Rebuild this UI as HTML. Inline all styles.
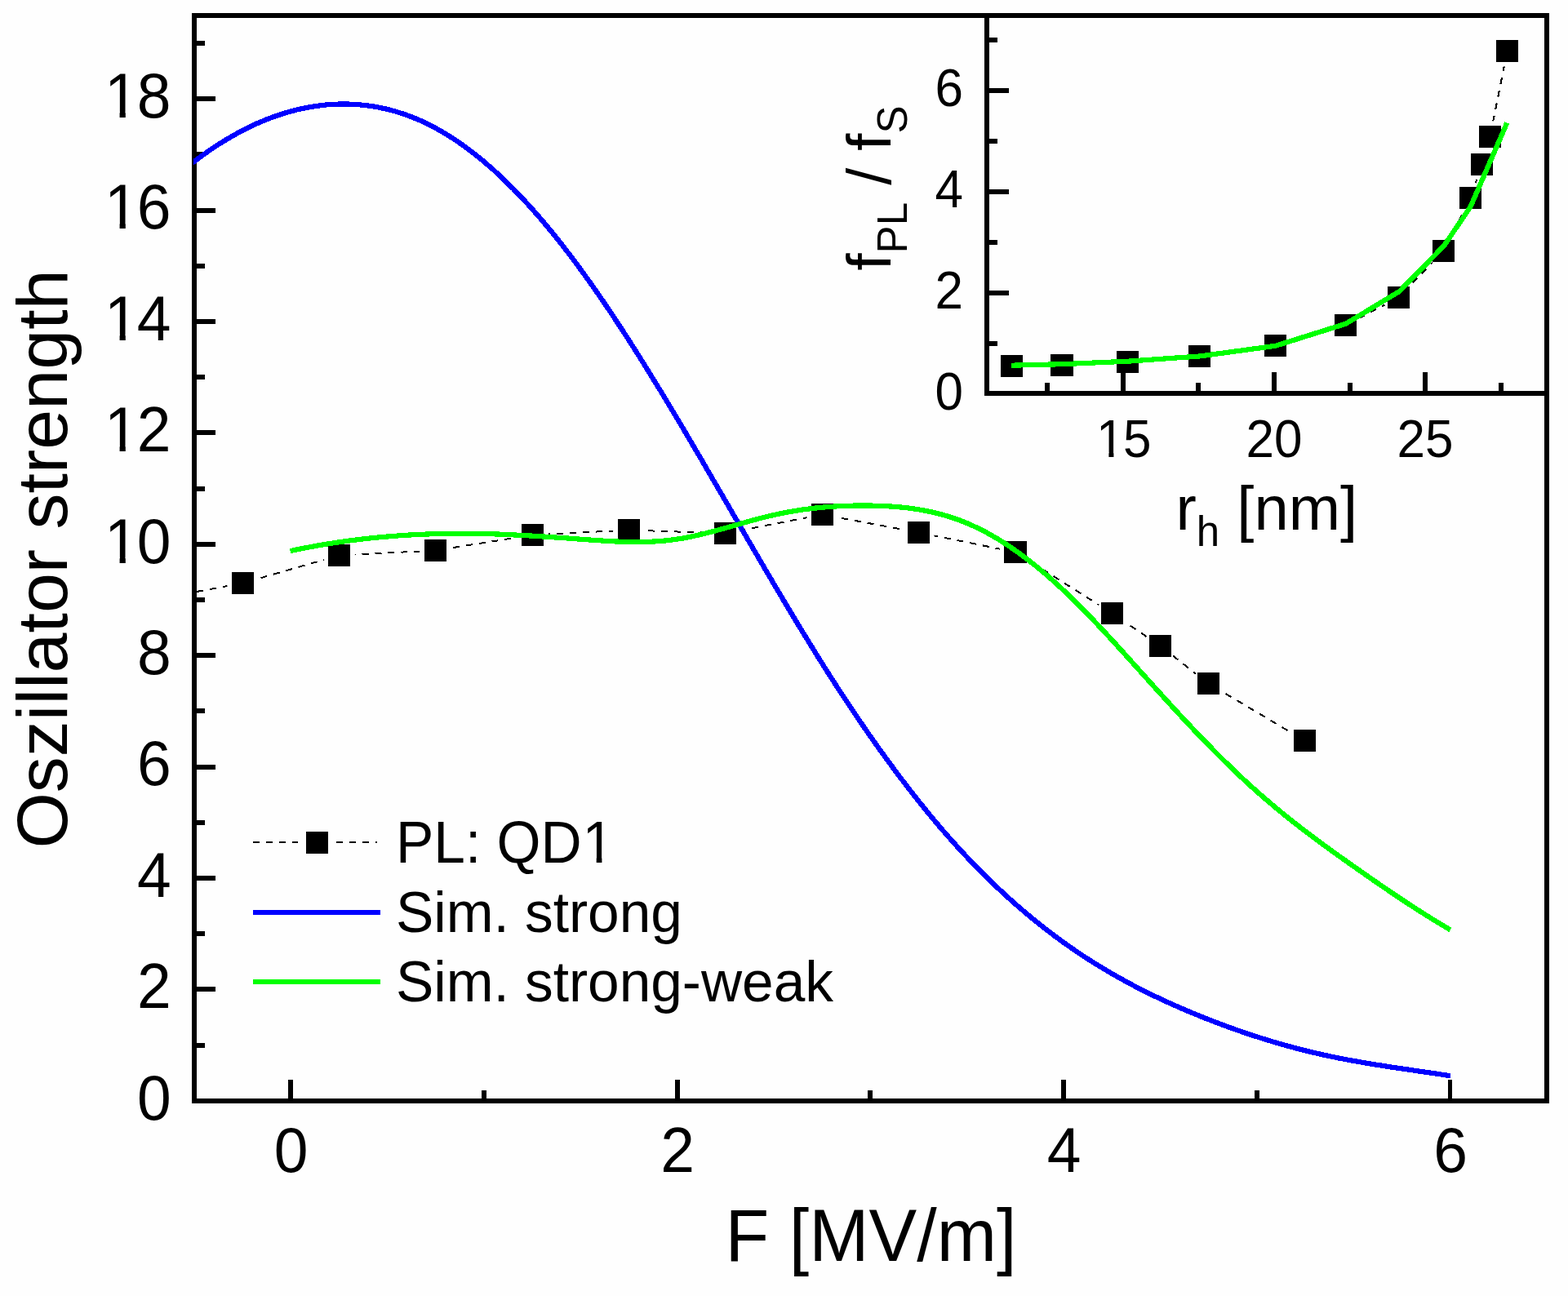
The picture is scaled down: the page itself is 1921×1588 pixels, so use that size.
<!DOCTYPE html>
<html lang="en"><head><meta charset="utf-8"><title>Oszillator strength vs F</title>
<style>html,body{margin:0;padding:0;background:#fefefe;overflow:hidden}svg{display:block}text{font-family:"Liberation Sans",Arial,sans-serif;fill:#000}</style>
</head><body>
<svg width="1921" height="1588" viewBox="0 0 1921 1588">
<rect x="0" y="0" width="1921" height="1588" fill="#fefefe"/>
<defs><clipPath id="cm"><rect x="237" y="19" width="1658" height="1330"/></clipPath><clipPath id="k75"><rect x="-83.5" y="-75" width="43.7" height="68.4"/><rect x="-62.9" y="-7.1" width="7.2" height="8.6"/><rect x="-41.7" y="-75" width="46.7" height="97.5"/></clipPath><clipPath id="k62"><rect x="-34.9" y="-62" width="36.5" height="56.5"/><rect x="-17.6" y="-6" width="6" height="7.5"/><rect x="0" y="-62" width="39.5" height="80.6"/></clipPath><clipPath id="k69"><rect x="-5" y="-80" width="232.5" height="110"/><rect x="227.5" y="-80" width="50" height="73.9"/><rect x="245.7" y="-6.6" width="6.7" height="8.1"/></clipPath></defs>
<g clip-path="url(#cm)">
<path d="M178.4 736.6 L297.5 714.5 L415.5 680.5 L533.5 674.5 L652.5 655.5 L770.5 649.5 L888.5 653.5 L1007.5 630.5 L1125.5 652.5 L1244 676.5 L1362.5 751.5 L1421.5 791.5 L1480.5 837.5 L1598.5 907.5" stroke="#000" stroke-width="2" stroke-dasharray="8 8" fill="none" shape-rendering="crispEdges"/>
<path d="M1239.5 448.5 L1301 447.5 L1381.5 443.5 L1469.5 436.5 L1562.5 423.5 L1648.5 398.5 L1713.5 364.5 L1768.5 307.5 L1801.5 242.5 L1815.5 201.5 L1825.5 167.5 L1846.5 62.5" stroke="#000" stroke-width="2" stroke-dasharray="8 8" fill="none" shape-rendering="crispEdges"/>
<g fill="#fefefe">
<circle cx="297.5" cy="714.5" r="19.5"/>
<circle cx="415.5" cy="680.5" r="19.5"/>
<circle cx="533.5" cy="674.5" r="19.5"/>
<circle cx="652.5" cy="655.5" r="19.5"/>
<circle cx="770.5" cy="649.5" r="19.5"/>
<circle cx="888.5" cy="653.5" r="19.5"/>
<circle cx="1007.5" cy="630.5" r="19.5"/>
<circle cx="1125.5" cy="652.5" r="19.5"/>
<circle cx="1244" cy="676.5" r="19.5"/>
<circle cx="1362.5" cy="751.5" r="19.5"/>
<circle cx="1421.5" cy="791.5" r="19.5"/>
<circle cx="1480.5" cy="837.5" r="19.5"/>
<circle cx="1598.5" cy="907.5" r="19.5"/>
<circle cx="1239.5" cy="448.5" r="19.5"/>
<circle cx="1301" cy="447.5" r="19.5"/>
<circle cx="1381.5" cy="443.5" r="19.5"/>
<circle cx="1469.5" cy="436.5" r="19.5"/>
<circle cx="1562.5" cy="423.5" r="19.5"/>
<circle cx="1648.5" cy="398.5" r="19.5"/>
<circle cx="1713.5" cy="364.5" r="19.5"/>
<circle cx="1768.5" cy="307.5" r="19.5"/>
<circle cx="1801.5" cy="242.5" r="19.5"/>
<circle cx="1815.5" cy="201.5" r="19.5"/>
<circle cx="1825.5" cy="167.5" r="19.5"/>
<circle cx="1846.5" cy="62.5" r="19.5"/>
</g></g>
<g fill="#000" shape-rendering="crispEdges">
<rect x="235" y="16" width="1663" height="6"/>
<rect x="235" y="1346" width="1663" height="6"/>
<rect x="235" y="16" width="6" height="1336"/>
<rect x="1892" y="16" width="6" height="1336"/>
<rect x="241" y="1278" width="10" height="6"/>
<rect x="241" y="1209" width="23" height="6"/>
<rect x="241" y="1141" width="10" height="6"/>
<rect x="241" y="1073" width="23" height="6"/>
<rect x="241" y="1005" width="10" height="6"/>
<rect x="241" y="937" width="23" height="6"/>
<rect x="241" y="868" width="10" height="6"/>
<rect x="241" y="800" width="23" height="6"/>
<rect x="241" y="732" width="10" height="6"/>
<rect x="241" y="664" width="23" height="6"/>
<rect x="241" y="596" width="10" height="6"/>
<rect x="241" y="527" width="23" height="6"/>
<rect x="241" y="459" width="10" height="6"/>
<rect x="241" y="391" width="23" height="6"/>
<rect x="241" y="323" width="10" height="6"/>
<rect x="241" y="255" width="23" height="6"/>
<rect x="241" y="186" width="10" height="6"/>
<rect x="241" y="118" width="23" height="6"/>
<rect x="241" y="50" width="10" height="6"/>
<rect x="353" y="1323" width="6" height="23"/>
<rect x="590" y="1336" width="6" height="10"/>
<rect x="827" y="1323" width="6" height="23"/>
<rect x="1063" y="1336" width="6" height="10"/>
<rect x="1300" y="1323" width="6" height="23"/>
<rect x="1537" y="1336" width="6" height="10"/>
<rect x="1774" y="1323" width="5" height="23"/>
<rect x="1206" y="16" width="6" height="469"/>
<rect x="1206" y="479" width="689" height="6"/>
<rect x="1212" y="418" width="10" height="6"/>
<rect x="1212" y="356" width="24" height="6"/>
<rect x="1212" y="294" width="10" height="6"/>
<rect x="1212" y="232" width="24" height="6"/>
<rect x="1212" y="170" width="10" height="6"/>
<rect x="1212" y="108" width="24" height="6"/>
<rect x="1212" y="46" width="10" height="6"/>
<rect x="1280" y="469" width="6" height="10"/>
<rect x="1373" y="456" width="6" height="23"/>
<rect x="1465" y="469" width="6" height="10"/>
<rect x="1558" y="456" width="6" height="23"/>
<rect x="1651" y="469" width="6" height="10"/>
<rect x="1743" y="456" width="6" height="23"/>
<rect x="1836" y="469" width="6" height="10"/>
</g>
<text font-size="75" text-anchor="end" transform="translate(209.7 1371.5) scale(1 1.04)">0</text>
<text font-size="75" text-anchor="end" transform="translate(209.7 1235.1) scale(1 1.04)">2</text>
<text font-size="75" text-anchor="end" transform="translate(209.7 1098.7) scale(1 1.04)">4</text>
<text font-size="75" text-anchor="end" transform="translate(209.7 962.3) scale(1 1.04)">6</text>
<text font-size="75" text-anchor="end" transform="translate(209.7 825.9) scale(1 1.04)">8</text>
<text font-size="75" text-anchor="start" transform="translate(209.5 689.5) scale(1 1.04)" x="-81.5 -41.7" clip-path="url(#k75)">10</text>
<text font-size="75" text-anchor="start" transform="translate(209.5 553.1) scale(1 1.04)" x="-81.5 -41.7" clip-path="url(#k75)">12</text>
<text font-size="75" text-anchor="start" transform="translate(209.5 416.7) scale(1 1.04)" x="-81.5 -41.7" clip-path="url(#k75)">14</text>
<text font-size="75" text-anchor="start" transform="translate(209.5 280.3) scale(1 1.04)" x="-81.5 -41.7" clip-path="url(#k75)">16</text>
<text font-size="75" text-anchor="start" transform="translate(209.5 143.9) scale(1 1.04)" x="-81.5 -41.7" clip-path="url(#k75)">18</text>
<text font-size="75" text-anchor="middle" transform="translate(356.7 1436) scale(1 1.04)">0</text>
<text font-size="75" text-anchor="middle" transform="translate(830.2 1436) scale(1 1.04)">2</text>
<text font-size="75" text-anchor="middle" transform="translate(1303.7 1436) scale(1 1.04)">4</text>
<text font-size="75" text-anchor="middle" transform="translate(1777.2 1436) scale(1 1.04)">6</text>
<text font-size="88" text-anchor="middle" transform="translate(1067 1545) scale(1 1.025)">F [MV/m]</text>
<text font-size="88" text-anchor="middle" transform="translate(82 685) rotate(-90)">Oszillator strength</text>
<text font-size="62" text-anchor="end" transform="translate(1180 502) scale(1 1.04)">0</text>
<text font-size="62" text-anchor="end" transform="translate(1180 378) scale(1 1.04)">2</text>
<text font-size="62" text-anchor="end" transform="translate(1180 254) scale(1 1.04)">4</text>
<text font-size="62" text-anchor="end" transform="translate(1180 130) scale(1 1.04)">6</text>
<text font-size="62" text-anchor="start" transform="translate(1376 560) scale(1 1.04)" x="-32.9 0" clip-path="url(#k62)">15</text>
<text font-size="62" text-anchor="middle" transform="translate(1561 560) scale(1 1.04)">20</text>
<text font-size="62" text-anchor="middle" transform="translate(1746 560) scale(1 1.04)">25</text>
<text font-size="76" x="1440.5" y="648.5">r<tspan font-size="51" dy="20.5">h</tspan><tspan dy="-20.5"> [nm]</tspan></text>
<text font-size="76" transform="translate(1091 331.5) rotate(-90)">f<tspan font-size="51" dy="20">PL</tspan><tspan dy="-20"> / f</tspan><tspan font-size="51" dy="20">S</tspan></text>
<g fill="#000" shape-rendering="crispEdges">
<rect x="284" y="701" width="27" height="27"/>
<rect x="402" y="667" width="27" height="27"/>
<rect x="520" y="661" width="27" height="27"/>
<rect x="639" y="642" width="27" height="27"/>
<rect x="757" y="636" width="27" height="27"/>
<rect x="875" y="640" width="27" height="27"/>
<rect x="994" y="617" width="27" height="27"/>
<rect x="1112" y="639" width="27" height="27"/>
<rect x="1230" y="663" width="28" height="27"/>
<rect x="1349" y="738" width="27" height="27"/>
<rect x="1408" y="778" width="27" height="27"/>
<rect x="1467" y="824" width="27" height="27"/>
<rect x="1585" y="894" width="27" height="27"/>
<rect x="1226" y="435" width="27" height="27"/>
<rect x="1287" y="434" width="28" height="27"/>
<rect x="1368" y="430" width="27" height="27"/>
<rect x="1456" y="423" width="27" height="27"/>
<rect x="1549" y="410" width="27" height="27"/>
<rect x="1635" y="385" width="27" height="27"/>
<rect x="1700" y="351" width="27" height="27"/>
<rect x="1755" y="294" width="27" height="27"/>
<rect x="1788" y="229" width="27" height="27"/>
<rect x="1802" y="188" width="27" height="27"/>
<rect x="1812" y="154" width="27" height="27"/>
<rect x="1833" y="49" width="27" height="27"/>
</g>
<path d="M1239 447.7 L1301 446.2 L1381.5 442.7 L1469.5 436.5 L1562.5 423.8 L1648.5 396.8 L1714.5 357 L1769 301.2 L1801.5 253.5 L1815.5 221.3 L1825.5 198.3 L1846.3 150.5" fill="none" stroke="#00ff00" stroke-width="6.2" stroke-linejoin="round" shape-rendering="crispEdges"/>
<g clip-path="url(#cm)" fill="none" stroke-width="6.2" stroke-linejoin="round" shape-rendering="crispEdges">
<path d="M230 204.09 C238.06 197.66 246.11 191.63 254.17 186.01 C262.23 180.39 270.29 175.17 278.34 170.36 C286.4 165.54 294.46 161.13 302.52 157.13 C310.57 153.12 318.63 149.52 326.69 146.33 C334.74 143.13 342.8 140.34 350.86 137.95 C358.92 135.56 366.97 133.58 375.03 132.01 C383.09 130.43 391.15 129.26 399.2 128.49 C407.26 127.73 415.32 127.38 423.38 127.45 C431.43 127.53 439.49 128.04 447.55 128.99 C455.6 129.94 463.66 131.34 471.72 133.2 C479.78 135.06 487.83 137.38 495.89 140.19 C503.95 142.99 512.01 146.27 520.06 150.06 C528.12 153.84 536.18 158.12 544.23 162.92 C552.29 167.71 560.35 173.03 568.41 178.83 C576.46 184.64 584.52 190.95 592.58 197.73 C600.64 204.52 608.69 211.78 616.75 219.5 C624.81 227.22 632.86 235.41 640.92 244.03 C648.98 252.65 657.04 261.71 665.09 271.19 C673.15 280.67 681.21 290.57 689.27 300.87 C697.32 311.17 705.38 321.88 713.44 332.96 C721.49 344.04 729.55 355.48 737.61 367.24 C745.67 379 753.72 391.09 761.78 403.44 C769.84 415.79 777.9 428.41 785.95 441.26 C794.01 454.11 802.07 467.18 810.12 480.44 C818.18 493.69 826.24 507.12 834.3 520.67 C842.35 534.23 850.41 547.92 858.47 561.7 C866.53 575.47 874.58 589.33 882.64 603.21 C890.7 617.09 898.76 631.01 906.81 644.9 C914.87 658.79 922.93 672.66 930.98 686.45 C939.04 700.24 947.1 713.95 955.16 727.54 C963.21 741.13 971.27 754.58 979.33 767.86 C987.39 781.13 995.44 794.23 1003.5 807.08 C1011.56 819.94 1019.61 832.56 1027.67 844.93 C1035.73 857.29 1043.79 869.4 1051.84 881.25 C1059.9 893.09 1067.96 904.67 1076.02 915.97 C1084.07 927.27 1092.13 938.29 1100.19 949.02 C1108.24 959.75 1116.3 970.18 1124.36 980.31 C1132.42 990.45 1140.47 1000.27 1148.53 1009.78 C1156.59 1019.29 1164.65 1028.47 1172.7 1037.34 C1180.76 1046.2 1188.82 1054.74 1196.88 1062.98 C1204.93 1071.22 1212.99 1079.15 1221.05 1086.79 C1229.1 1094.43 1237.16 1101.77 1245.22 1108.83 C1253.28 1115.89 1261.33 1122.67 1269.39 1129.18 C1277.45 1135.69 1285.51 1141.94 1293.56 1147.92 C1301.62 1153.9 1309.68 1159.63 1317.73 1165.11 C1325.79 1170.59 1333.85 1175.83 1341.91 1180.84 C1349.96 1185.86 1358.02 1190.65 1366.08 1195.24 C1374.14 1199.83 1382.19 1204.22 1390.25 1208.43 C1398.31 1212.64 1406.36 1216.67 1414.42 1220.54 C1422.48 1224.41 1430.54 1228.12 1438.59 1231.69 C1446.65 1235.27 1454.71 1238.71 1462.77 1242.03 C1470.82 1245.35 1478.88 1248.56 1486.94 1251.66 C1494.99 1254.75 1503.05 1257.74 1511.11 1260.61 C1519.17 1263.48 1527.22 1266.24 1535.28 1268.88 C1543.34 1271.52 1551.4 1274.04 1559.45 1276.45 C1567.51 1278.85 1575.57 1281.14 1583.62 1283.3 C1591.68 1285.47 1599.74 1287.51 1607.8 1289.44 C1615.85 1291.36 1623.91 1293.15 1631.97 1294.83 C1640.03 1296.51 1648.08 1298.07 1656.14 1299.54 C1664.2 1301.01 1672.26 1302.4 1680.31 1303.72 C1688.37 1305.04 1696.43 1306.3 1704.48 1307.52 C1712.54 1308.74 1720.6 1309.93 1728.66 1311.1 C1736.71 1312.28 1744.77 1313.44 1752.83 1314.62 C1760.89 1315.8 1768.94 1316.99 1777 1318.23" stroke="#0000ff"/>
<path d="M355.5 675.12 C363.53 673.39 371.56 671.78 379.59 670.28 C387.62 668.77 395.65 667.38 403.68 666.1 C411.71 664.82 419.74 663.64 427.77 662.57 C435.8 661.5 443.83 660.53 451.86 659.66 C459.89 658.8 467.92 658.03 475.95 657.36 C483.98 656.69 492.01 656.12 500.04 655.63 C508.07 655.15 516.1 654.77 524.13 654.47 C532.16 654.17 540.19 653.96 548.22 653.84 C556.25 653.72 564.28 653.68 572.31 653.73 C580.34 653.78 588.37 653.91 596.4 654.12 C604.43 654.32 612.46 654.61 620.49 654.96 C628.52 655.31 636.55 655.72 644.58 656.17 C652.61 656.63 660.64 657.13 668.67 657.67 C676.7 658.2 684.73 658.76 692.76 659.34 C700.79 659.92 708.82 660.52 716.85 661.11 C724.88 661.71 732.91 662.28 740.94 662.77 C748.97 663.26 757 663.65 765.03 663.88 C773.06 664.11 781.09 664.17 789.12 663.99 C797.15 663.81 805.18 663.39 813.21 662.65 C821.24 661.91 829.27 660.84 837.3 659.41 C845.33 657.98 853.36 656.22 861.39 654.26 C869.42 652.3 877.45 650.14 885.48 647.9 C893.51 645.66 901.54 643.33 909.57 641.06 C917.6 638.78 925.63 636.55 933.66 634.49 C941.69 632.42 949.72 630.54 957.75 628.92 C965.78 627.29 973.81 625.9 981.84 624.72 C989.87 623.54 997.9 622.58 1005.93 621.82 C1013.96 621.06 1021.99 620.49 1030.02 620.11 C1038.05 619.73 1046.08 619.52 1054.11 619.49 C1062.14 619.45 1070.16 619.56 1078.19 619.86 C1086.22 620.15 1094.25 620.63 1102.28 621.38 C1110.31 622.12 1118.34 623.13 1126.37 624.47 C1134.4 625.8 1142.43 627.47 1150.46 629.55 C1158.49 631.62 1166.52 634.09 1174.55 637.04 C1182.58 639.99 1190.61 643.43 1198.64 647.36 C1206.67 651.29 1214.7 655.71 1222.73 660.58 C1230.76 665.45 1238.79 670.78 1246.82 676.53 C1254.85 682.28 1262.88 688.46 1270.91 695.02 C1278.94 701.59 1286.97 708.55 1295 715.88 C1303.03 723.2 1311.06 730.89 1319.09 738.89 C1327.12 746.88 1335.15 755.16 1343.18 763.65 C1351.21 772.14 1359.24 780.83 1367.27 789.63 C1375.3 798.44 1383.33 807.36 1391.36 816.3 C1399.39 825.24 1407.42 834.21 1415.45 843.11 C1423.48 852.01 1431.51 860.84 1439.54 869.55 C1447.57 878.27 1455.6 886.86 1463.63 895.31 C1471.66 903.76 1479.69 912.06 1487.72 920.17 C1495.75 928.28 1503.78 936.21 1511.81 943.91 C1519.84 951.62 1527.87 959.1 1535.9 966.33 C1543.93 973.55 1551.96 980.51 1559.99 987.25 C1568.02 993.98 1576.05 1000.49 1584.08 1006.81 C1592.11 1013.14 1600.14 1019.29 1608.17 1025.31 C1616.2 1031.32 1624.23 1037.2 1632.26 1043 C1640.29 1048.79 1648.32 1054.5 1656.35 1060.17 C1664.38 1065.83 1672.41 1071.46 1680.44 1077.03 C1688.47 1082.6 1696.5 1088.11 1704.53 1093.53 C1712.56 1098.95 1720.59 1104.29 1728.62 1109.51 C1736.65 1114.74 1744.68 1119.85 1752.71 1124.83 C1760.74 1129.81 1768.77 1134.66 1776.8 1139.34" stroke="#00ff00"/>
</g>
<path d="M310 1032 H365 M412 1032 H462" stroke="#000" stroke-width="2" stroke-dasharray="8 8" fill="none" shape-rendering="crispEdges"/>
<rect x="375" y="1019" width="27" height="27" fill="#000" shape-rendering="crispEdges"/>
<rect x="310" y="1115" width="156" height="6" fill="#0000ff" shape-rendering="crispEdges"/>
<rect x="310" y="1200" width="156" height="6" fill="#00ff00" shape-rendering="crispEdges"/>
<text font-size="69.4" text-anchor="start" transform="translate(485 1057) scale(1 1.04)" dx="0 0 0 0 0 0 1" clip-path="url(#k69)">PL: QD1</text>
<text font-size="69.4" text-anchor="start" transform="translate(485 1142) scale(1 1.02)">Sim. strong</text>
<text font-size="69.4" text-anchor="start" transform="translate(485 1227) scale(1 1.02)">Sim. strong-weak</text>
</svg></body></html>
